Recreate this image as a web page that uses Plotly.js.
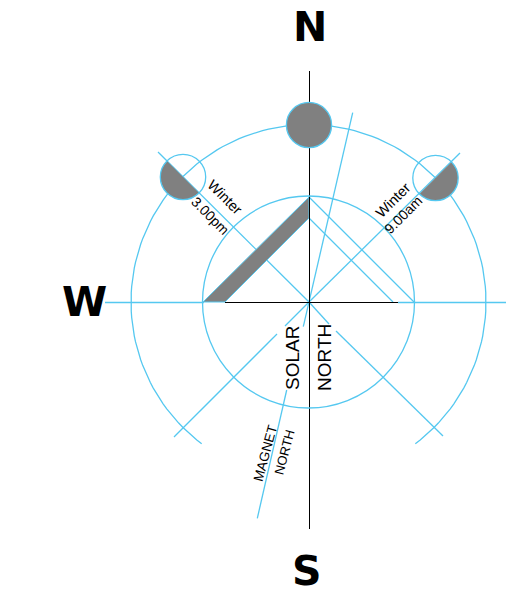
<!DOCTYPE html>
<html><head><meta charset="utf-8">
<script src="https://cdn.plot.ly/plotly-3.0.1.min.js"></script>
<style>html,body{margin:0;padding:0;background:#fff}</style></head>
<body><div id="c" style="width:506px;height:606px"></div>
<script>
const BLUE='#55c8f0', BLACK='#000', GRAY='#808080';
const axisX=[309.5,309.5], axisY=[71,529];
const baseX=[225,398], baseY=[302.5,302.5];
const westX=[105,204], westY=[302.5,302.5];
const eastX=[398,506], eastY=[302.5,302.5];
const nwX=[158,309], nwY=[152,302];
const neX=[460,309], neY=[153,302];
const swX=[309,285,null,277,174], swY=[302,326,null,334,437];
const seX=[309,329,null,336,443], seY=[302,324,null,331,436];
const magX=[352.7,303.3,null,286.7,257.3], magY=[112.7,326.7,null,390,518.3];
const raysX=[309,414,null,309,393], raysY=[197,302,null,218,302];
const wedgeX=[203,225,309,309,203], wedgeY=[302,302,218,197,302];
const arcR=177.5, centre=[308.5,302];
const arcLeftDeg=[-7,-143], arcRightDeg=[7,143];
function arc(d){const p={x:[],y:[]};for(let a=d[0];Math.abs(a-d[0])<=Math.abs(d[1]-d[0]);a+=Math.sign(d[1]-d[0])*2){const r=a*Math.PI/180;p.x.push(centre[0]+arcR*Math.sin(r));p.y.push(centre[1]-arcR*Math.cos(r));}return p;}
const aL=arc(arcLeftDeg), aR=arc(arcRightDeg);
const LW=1.3;
const line=(x,y,c,w)=>({type:'scatter',mode:'lines',x,y,line:{color:c,width:w||LW},hoverinfo:'skip',connectgaps:false});
function half(c,r,a0,a1){const p={x:[],y:[]};for(let a=a0;a<=a1;a+=6){const t=a*Math.PI/180;p.x.push(c[0]+r*Math.cos(t));p.y.push(c[1]+r*Math.sin(t));}return p;}
const hL=half([183,177],22.7,45,225), hR=half([435.5,178],22.7,-45,135);
const data=[
 line(westX,westY,BLUE,1.5),line(eastX,eastY,BLUE,1.5),
 line(nwX,nwY,BLUE),line(neX,neY,BLUE),line(swX,swY,BLUE),line(seX,seY,BLUE),
 line(magX,magY,BLUE),line(raysX,raysY,BLUE),
 line(aL.x,aL.y,BLUE),line(aR.x,aR.y,BLUE),
 {type:'scatter',mode:'lines',x:wedgeX,y:wedgeY,fill:'toself',fillcolor:GRAY,line:{color:BLUE,width:1},hoverinfo:'skip'},
 {type:'scatter',mode:'lines',x:hL.x,y:hL.y,fill:'toself',fillcolor:GRAY,line:{color:GRAY,width:0},hoverinfo:'skip'},
 {type:'scatter',mode:'lines',x:hR.x,y:hR.y,fill:'toself',fillcolor:GRAY,line:{color:GRAY,width:0},hoverinfo:'skip'},
 line(axisX,axisY,BLACK,1),line(baseX,baseY,BLACK,1)
];
const circ=(cx,cy,r,fill)=>({type:'circle',xref:'x',yref:'y',x0:cx-r,x1:cx+r,y0:cy-r,y1:cy+r,line:{color:BLUE,width:1.3},fillcolor:fill||'rgba(0,0,0,0)',layer:'above'});
const shapes=[circ(308.5,302,106),circ(309,125,22.6,GRAY),circ(183,177,22.7),circ(435.5,178,22.7)];
const SANS='Liberation Sans, Arial, sans-serif', BOLD='DejaVu Sans, Verdana, sans-serif';
const t=(x,y,text,size,angle,fam,wt)=>({x,y,xref:'x',yref:'y',text,showarrow:false,textangle:angle||0,font:{size,color:'#000',family:fam||SANS,weight:wt||400},align:'center',xanchor:'center',yanchor:'middle'});
const annotations=[
 t(310,27,'N',41,0,BOLD,700),t(84,302,'W',41,0,BOLD,700),t(307,571,'S',41,0,BOLD,700),
 t(292,358,'SOLAR',19,-90),t(324,358,'NORTH',19,-90),
 t(265,453,'MAGNET',13.5,-75),t(284,452,'NORTH',13,-75),
 t(224.7,197,'Winter',14.5,45),t(210.7,215.7,'3.00pm',14,45),
 t(393,200,'Winter',14.5,-45),t(403,215,'9.00am',14,-45)
];
Plotly.newPlot('c',data,{width:506,height:606,margin:{l:0,r:0,t:0,b:0},showlegend:false,paper_bgcolor:'#fff',plot_bgcolor:'#fff',
 xaxis:{range:[0,506],visible:false,fixedrange:true},yaxis:{range:[606,0],visible:false,fixedrange:true},shapes,annotations},{staticPlot:true});
</script></body></html>
